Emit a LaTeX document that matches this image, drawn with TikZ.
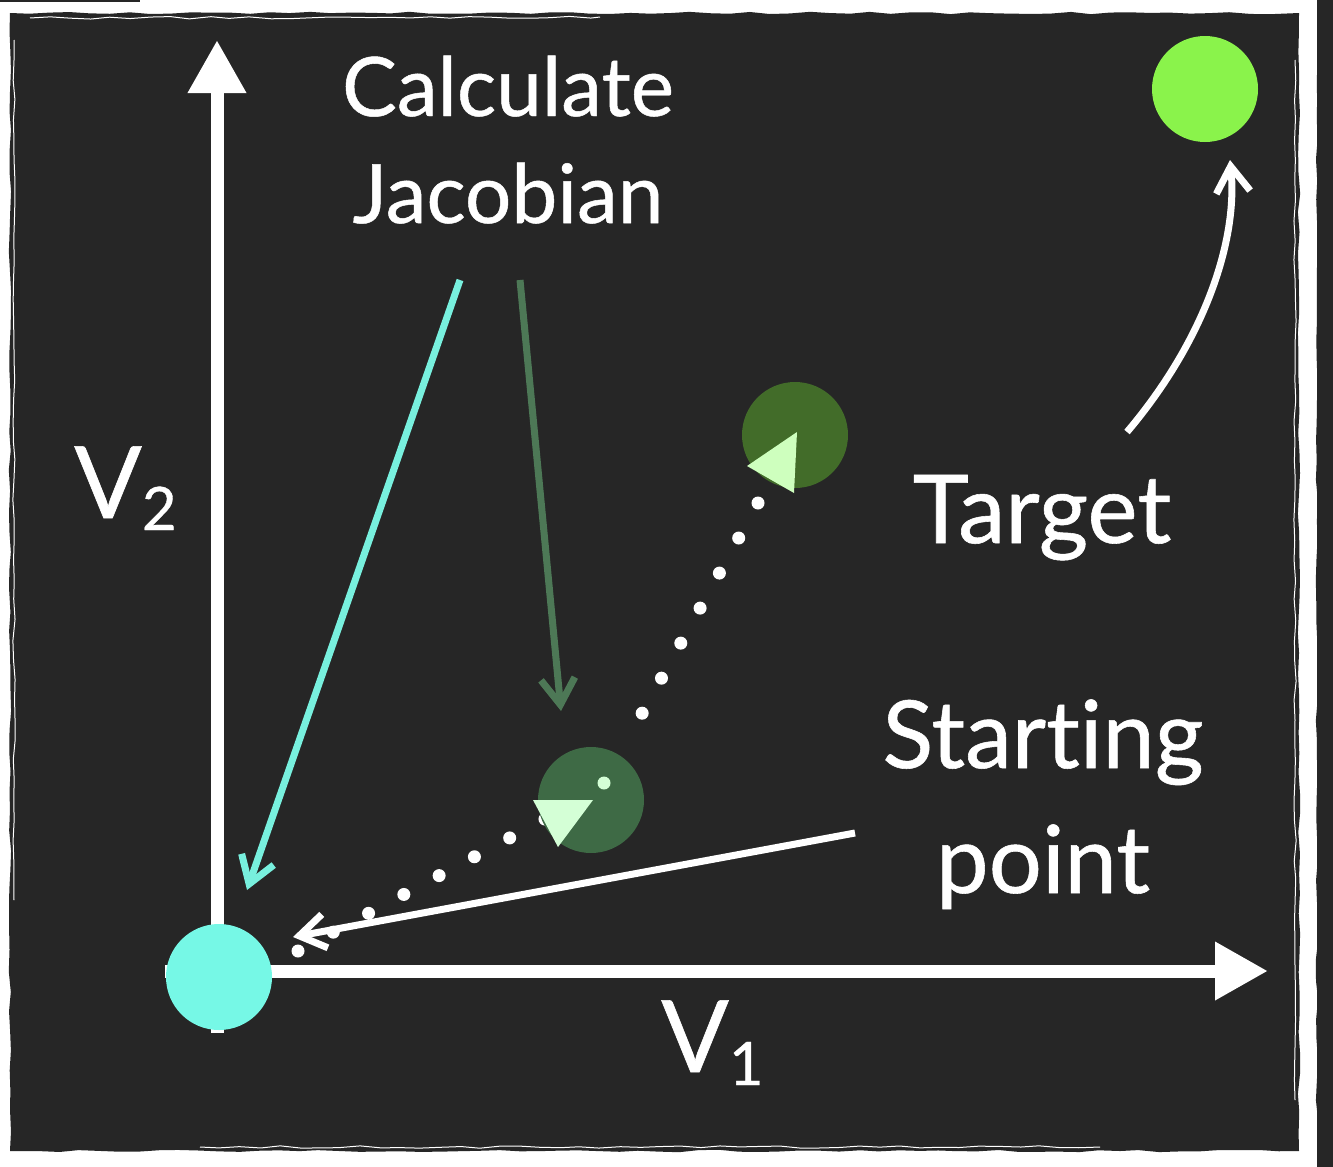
\documentclass[tikz,border=0pt]{standalone}
\usepackage{fontspec}
\setmainfont{Lato}[Ligatures={NoCommon,NoRare,NoContextual},FakeBold=0.6]
\usetikzlibrary{arrows.meta,decorations.pathmorphing}
\definecolor{bgdark}{RGB}{38,38,38}
\definecolor{startcyan}{RGB}{118,248,230}
\definecolor{cyanarrow}{RGB}{120,240,222}
\definecolor{targetgreen}{RGB}{138,243,75}
\definecolor{stepone}{RGB}{66,108,41}
\definecolor{steptwo}{RGB}{62,106,69}
\definecolor{lighttri}{RGB}{206,255,190}
\definecolor{lighttrib}{RGB}{212,255,214}
\definecolor{mutedgreen}{RGB}{77,120,86}
\tikzset{
  axisline/.style={white, line width=13pt, -{Triangle[length=53pt,width=55pt]}},
  pointdot/.style={circle, minimum size=106pt, inner sep=0pt, draw=none},
  thinarrow/.style={line width=7pt, -{Straight Barb[length=26pt,width=34pt]}},
  dotline/.style={white, line width=13pt, line cap=round, dash pattern=on 0pt off 40pt},
  lbl/.style={text=white, inner sep=0pt, anchor=base},
  rough/.style={decorate, decoration={random steps, segment length=20pt, amplitude=1.2pt}},
}
\begin{document}
\begin{tikzpicture}[x=1pt,y=-1pt]
\useasboundingbox (0,0) rectangle (1333,1167);
\fill[bgdark] (0,0) rectangle (1333,1167);
% sketchy frame: white band, rough inner edge
\fill[white] (0,0) rectangle (1317,1167);
\fill[bgdark, rough] (10,13) -- (1299,13) -- (1299,1151) -- (10,1151) -- cycle;
\fill[bgdark] (0,0) rectangle (140,2);
\fill[bgdark, rough] (1317,0) -- (1317,1167) -- (1333,1167) -- (1333,0) -- cycle;
\draw[white, line width=1pt, rough] (14,40) -- (14,900);
\draw[white, line width=1pt, rough] (30,18) -- (600,17);
\draw[white, line width=1pt, rough] (1295,60) -- (1295,1100);
\draw[white, line width=1pt, rough] (200,1147) -- (1100,1147);

% axes
\coordinate (origin) at (217,971);
\coordinate (vtip) at (217,40);
\coordinate (htip) at (1268,971);
\draw[axisline] (217,1033) -- (vtip);
\draw[axisline] (165,971) -- (htip);

% dotted trajectory
\coordinate (dotA) at (758,503);
\coordinate (dotB) at (623,748);
\coordinate (dotC) at (298,951);
\coordinate (dotD) at (590,795);
\draw[dotline] (dotA) -- (dotB);
\draw[dotline] (dotC) -- (dotD);

% points
\node[pointdot, fill=startcyan] (start) at (219,977) {};
\node[pointdot, fill=targetgreen] (target) at (1205,89) {};
\node[pointdot, fill=stepone] (s1) at (795,435) {};
\node[pointdot, fill=steptwo] (s2) at (591,800) {};

% triangles in the step points
\fill[lighttri] (797,432) -- (747,466) -- (794,493) -- cycle;
\fill[lighttrib] (604,783) circle (6.5pt);
\fill[lighttrib] (533,800) -- (593,800) -- (558,847) -- cycle;

% labels
\node[lbl, font=\fontsize{82}{98}\selectfont] (calc) at (508,116) {Calculate};
\node[lbl, font=\fontsize{82}{98}\selectfont] (jac) at (508,223) {Jacobian};
\node[lbl, font=\fontsize{95}{114}\selectfont] (tgtlbl) at (1042,543) {Target};
\node[lbl, font=\fontsize{94}{112}\selectfont] (stlbl) at (1043,768) {Starting};
\node[lbl, font=\fontsize{94}{112}\selectfont] (ptlbl) at (1043,893) {point};
\node[lbl, anchor=base west, font=\fontsize{100}{120}\selectfont] (vtwo) at (74,518) {V\raisebox{-12pt}{\fontsize{60}{72}\selectfont 2}};
\node[lbl, anchor=base west, font=\fontsize{100}{120}\selectfont] (vone) at (661,1072) {V\raisebox{-13pt}{\fontsize{60}{72}\selectfont 1}};

% connectors
\coordinate (cyanfrom) at (460,280);
\coordinate (cyanto) at (247,890);
\draw[thinarrow, cyanarrow] (cyanfrom) -- (cyanto);
\coordinate (greenfrom) at (520,280);
\coordinate (greento) at (561,711);
\draw[thinarrow, mutedgreen] (greenfrom) -- (greento);
\coordinate (spfrom) at (855,833);
\coordinate (spto) at (293,937);
\draw[thinarrow, white] (spfrom) -- (spto);
\coordinate (tgfrom) at (1127,432);
\coordinate (tgto) at (1230,160);
\draw[thinarrow, white] (tgfrom) .. controls (1205,340) and (1238,240) .. (tgto);
\end{tikzpicture}
\end{document}
